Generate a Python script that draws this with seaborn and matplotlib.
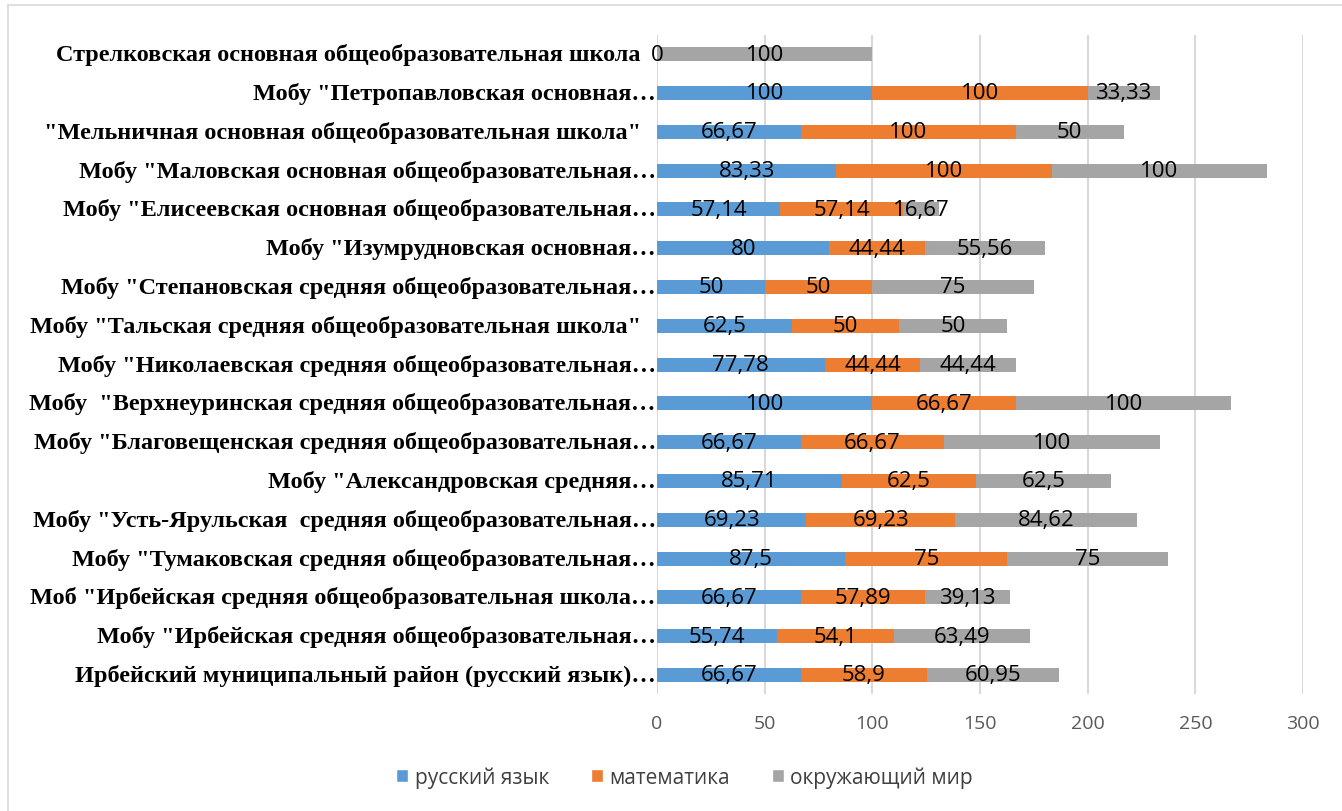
import numpy as np
import pandas as pd
import seaborn as sns
import matplotlib.pyplot as plt
from matplotlib.patches import Patch
from matplotlib.lines import Line2D


schools = [
    'Стрелковская основная общеобразовательная школа',
    'Мобу "Петропавловская основная…',
    '"Мельничная основная общеобразовательная школа"',
    'Мобу "Маловская основная общеобразовательная…',
    'Мобу "Елисеевская основная общеобразовательная…',
    'Мобу "Изумрудновская основная…',
    'Мобу "Степановская средняя общеобразовательная…',
    'Мобу "Тальская средняя общеобразовательная школа"',
    'Мобу "Николаевская средняя общеобразовательная…',
    'Мобу  "Верхнеуринская средняя общеобразовательная…',
    'Мобу "Благовещенская средняя общеобразовательная…',
    'Мобу "Александровская средняя…',
    'Мобу "Усть-Ярульская  средняя общеобразовательная…',
    'Мобу "Тумаковская средняя общеобразовательная…',
    'Моб "Ирбейская средняя общеобразовательная школа…',
    'Мобу "Ирбейская средняя общеобразовательная…',
    'Ирбейский муниципальный район (русский язык)…',
]
russian = [0, 100, 66.67, 83.33, 57.14, 80, 50, 62.5, 77.78, 100, 66.67, 85.71, 69.23, 87.5, 66.67, 55.74, 66.67]
maths = [np.nan, 100, 100, 100, 57.14, 44.44, 50, 50, 44.44, 66.67, 66.67, 62.5, 69.23, 75, 57.89, 54.1, 58.9]
world = [100, 33.33, 50, 100, 16.67, 55.56, 75, 50, 44.44, 100, 100, 62.5, 84.62, 75, 39.13, 63.49, 60.95]

series_names = ['русский язык', 'математика', 'окружающий мир']
colors = ['#5B9BD5', '#ED7D31', '#A5A5A5']

df = pd.DataFrame({'school': schools, 'rus': russian, 'mat': maths, 'world': world})
df['c1'] = df['rus']
df['c2'] = df['c1'] + df['mat'].fillna(0)
df['c3'] = df['c2'] + df['world']

sns.set_theme(style='white')
plt.rcParams['font.family'] = ['Open Sans', 'DejaVu Sans']

fig = plt.figure(figsize=(13.42, 8.12), dpi=100)
ax = fig.add_axes([0.4896, 0.1436, 0.4814, 0.8124])

# stacked bars: draw totals first, then shorter partial sums on top
for col, color in zip(['c3', 'c2', 'c1'], colors[::-1]):
    sns.barplot(data=df, x=col, y='school', order=schools, color=color,
                width=0.36, saturation=1, orient='h', ax=ax, linewidth=0)

for i, row in df.iterrows():
    segs = [(row['rus'], 0), (row['mat'], row['c1']), (row['world'], row['c2'])]
    for val, start in segs:
        if pd.isna(val):
            continue
        txt = f'{val:g}'.replace('.', ',')
        ax.text(start + val / 2, i, txt, ha='center', va='center',
                fontsize=16, color='black')

ax.set_xlim(0, 300)
ax.set_ylim(16.5, -0.5)
ax.set_xticks(range(0, 301, 50))
ax.xaxis.grid(True, color='#d9d9d9', linewidth=1.5)
ax.set_axisbelow(True)
for s in ax.spines.values():
    s.set_visible(False)
ax.set_xlabel('')
ax.set_ylabel('')
ax.tick_params(axis='x', length=0, pad=14, labelsize=14, labelcolor='#595959')
ax.tick_params(axis='y', length=0)
ax.set_yticks(range(len(schools)))
ax.set_yticklabels([])

# category labels; the untruncated ones end a little further from the axis
ytrans = ax.get_yaxis_transform()
for i, name in enumerate(schools):
    xpos = -0.025 if name.endswith('школа') or name.endswith('"') else -0.002
    ax.text(xpos, i, name, transform=ytrans, ha='right', va='center',
            fontfamily='Liberation Serif', fontweight='bold', fontsize=17.5,
            color='black')

handles = [Patch(facecolor=c, label=n) for c, n in zip(colors, series_names)]
fig.legend(handles=handles, loc='center', bbox_to_anchor=(0.51, 0.042), ncol=3,
           frameon=False, fontsize=15, handlelength=0.6, handleheight=0.6,
           handletextpad=0.3, columnspacing=2.0, labelcolor='#404040')

fig.add_artist(Line2D([8 / 1342, 8 / 1342], [0, 1 - 6 / 812], color='#d9d9d9', linewidth=1.2))
fig.add_artist(Line2D([8 / 1342, 1], [1 - 6 / 812, 1 - 6 / 812], color='#d9d9d9', linewidth=1.2))

fig.savefig('out.png', dpi=100)
